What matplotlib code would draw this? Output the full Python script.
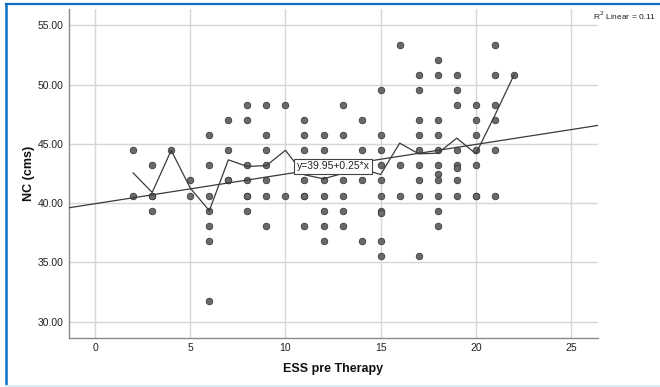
import matplotlib
matplotlib.use("Agg")
import matplotlib.pyplot as plt
from matplotlib.lines import Line2D

# ---- data ----
ess_pre = [2, 2,
           3, 3, 3, 3,
           4,
           5, 5,
           6, 6, 6, 6, 6, 6, 6,
           7, 7, 7, 7,
           8, 8, 8, 8, 8, 8, 8,
           9, 9, 9, 9, 9, 9, 9,
           10, 10,
           11, 11, 11, 11, 11, 11, 11,
           12, 12, 12, 12, 12, 12, 12,
           13, 13, 13, 13, 13, 13,
           14, 14, 14, 14,
           15, 15, 15, 15, 15, 15, 15, 15, 15, 15,
           16, 16, 16,
           17, 17, 17, 17, 17, 17, 17, 17, 17,
           18, 18, 18, 18, 18, 18, 18, 18, 18, 18, 18,
           19, 19, 19, 19, 19, 19, 19, 19,
           20, 20, 20, 20, 20, 20, 20,
           21, 21, 21, 21, 21, 21,
           22]
nc_cms = [44.45, 40.64,
          43.18, 40.64, 40.64, 39.37,
          44.45,
          41.91, 40.64,
          45.72, 43.18, 40.64, 39.37, 38.10, 36.83, 31.75,
          46.99, 44.45, 41.91, 41.91,
          48.26, 46.99, 43.18, 41.91, 40.64, 40.64, 39.37,
          48.26, 45.72, 44.45, 43.18, 41.91, 40.64, 38.10,
          48.26, 40.64,
          46.99, 45.72, 44.45, 41.91, 40.64, 40.64, 38.10,
          45.72, 44.45, 41.91, 40.64, 39.37, 38.10, 36.83,
          48.26, 45.72, 41.91, 40.64, 39.37, 38.10,
          46.99, 44.45, 41.91, 36.83,
          49.53, 45.72, 44.45, 43.18, 41.91, 40.64, 39.37, 39.20, 36.83, 35.56,
          53.34, 43.18, 40.64,
          50.80, 49.53, 46.99, 45.72, 44.45, 43.18, 41.91, 40.64, 35.50,
          52.07, 50.80, 46.99, 45.72, 44.45, 43.18, 42.42, 41.91, 40.64, 39.37, 38.10,
          50.80, 49.53, 48.26, 44.45, 43.18, 42.93, 41.91, 40.64,
          48.26, 46.99, 45.72, 44.45, 43.18, 40.64, 40.64,
          53.34, 50.80, 48.26, 46.99, 44.45, 40.64,
          50.80]

mean_x = [2, 3, 4, 5, 6, 7, 8, 9, 10, 11, 12, 13, 14, 15, 16, 17, 18, 19, 20, 21, 22]
mean_nc = [42.55, 40.90, 44.45, 41.27, 39.36, 43.65, 43.09, 43.17, 44.45, 42.39,
           42.05, 42.50, 42.90, 42.41, 45.06, 44.16, 44.21, 45.48, 44.16, 47.41, 50.80]

fit_intercept = 39.95
fit_slope = 0.25
r2_text = "R$^2$ Linear = 0.11"
eq_text = "y=39.95+0.25*x"

x_ticks = [0, 5, 10, 15, 20, 25]
y_ticks = [30, 35, 40, 45, 50, 55]

narrow = ['Liberation Sans Narrow', 'Liberation Sans', 'DejaVu Sans']
regular = ['Liberation Sans', 'DejaVu Sans']

fig = plt.figure(figsize=(6.6, 3.87), dpi=100)
ax = fig.add_axes([0.1045, 0.1274, 0.8011, 0.8493])

ax.set_xlim(-1.37, 26.4)
ax.set_ylim(28.65, 56.37)

ax.set_xticks(x_ticks)
ax.set_yticks(y_ticks)
ax.set_yticklabels([f"{v:.2f}" for v in y_ticks], family=narrow, fontsize=7.5, color='#222222')
ax.set_xticklabels([str(v) for v in x_ticks], family=narrow, fontsize=7.5, color='#222222')
ax.tick_params(axis='both', length=0)
ax.tick_params(axis='y', pad=4)
ax.tick_params(axis='x', pad=4)

ax.grid(True, color='#d6d6d6', linewidth=1.0)
ax.set_axisbelow(True)
for s in ['top', 'right']:
    ax.spines[s].set_visible(False)
for s in ['left', 'bottom']:
    ax.spines[s].set_color('#8a8a8a')
    ax.spines[s].set_linewidth(1.0)

ax.scatter(ess_pre, nc_cms, s=22, facecolor='#6a6a6a', edgecolor='#3c3c3c',
           linewidth=0.6, zorder=3)

ax.plot(mean_x, mean_nc, color='#3a3a3a', linewidth=0.9, zorder=4)
ax.axline((0, fit_intercept), slope=fit_slope, color='#3a3a3a', linewidth=0.9, zorder=4)

ax.text(12.5, 43.1, eq_text, ha='center', va='center', family=narrow, fontsize=7.5,
        color='#222222', zorder=6,
        bbox=dict(boxstyle='square,pad=0.25', facecolor='white', edgecolor='#444444',
                  linewidth=0.8))

ax.set_xlabel("ESS pre Therapy", family=regular, fontsize=9, fontweight='bold',
              color='#111111', labelpad=7)
ax.set_ylabel("NC (cms)", family=regular, fontsize=9, fontweight='bold',
              color='#111111', labelpad=2)

fig.text(0.899, 0.959, r2_text, ha='left', va='center', family=narrow,
         fontsize=6.0, color='#222222')

# blue frame
fig.add_artist(Line2D([0.0085, 1.0], [0.9885, 0.9885], transform=fig.transFigure,
                      color='#0a6fc2', linewidth=1.6))
fig.add_artist(Line2D([0.0085, 0.0085], [0.0, 0.9885], transform=fig.transFigure,
                      color='#0a6fc2', linewidth=1.8))
fig.add_artist(Line2D([0.0085, 1.0], [0.002, 0.002], transform=fig.transFigure,
                      color='#d8ecfa', linewidth=1.5))

fig.savefig("out.png", dpi=100)
